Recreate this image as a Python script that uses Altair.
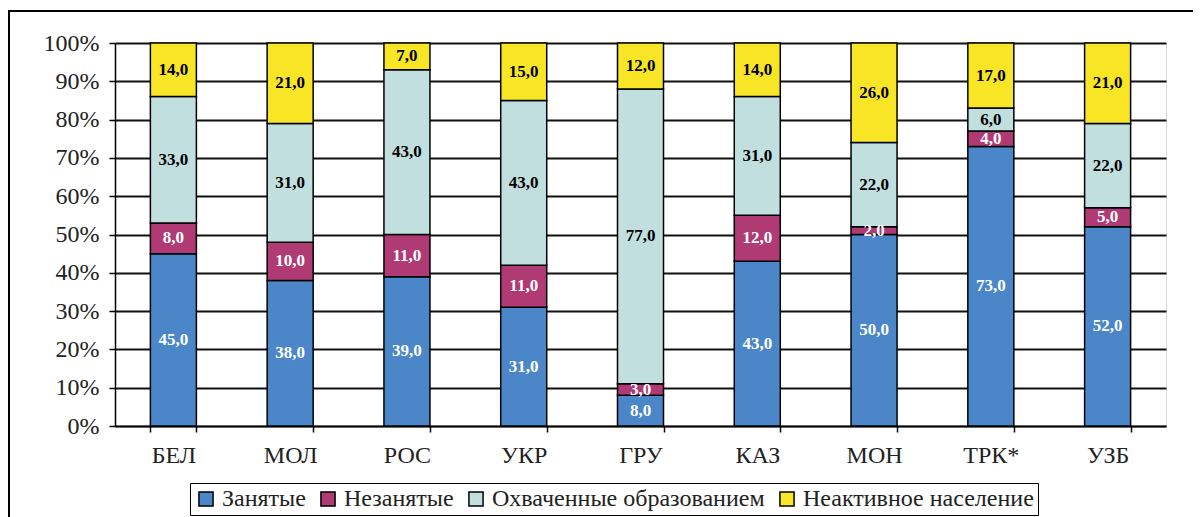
import altair as alt
import pandas as pd

countries = ["БЕЛ", "МОЛ", "РОС", "УКР", "ГРУ", "КАЗ", "МОН", "ТРК*", "УЗБ"]
series = ["Занятые", "Незанятые", "Охваченные образованием", "Неактивное население"]
employed = [45, 38, 39, 31, 8, 43, 50, 73, 52]
unemployed = [8, 10, 11, 11, 3, 12, 2, 4, 5]
education = [33, 31, 43, 43, 77, 31, 22, 6, 22]
inactive = [14, 21, 7, 15, 12, 14, 26, 17, 21]
colors = ["#4A86C8", "#B03A74", "#C1DFDF", "#F8E626"]
y_ticks = [0, 10, 20, 30, 40, 50, 60, 70, 80, 90, 100]

rows = []
for i, vals in enumerate([employed, unemployed, education, inactive]):
    for c, v in zip(countries, vals):
        rows.append({"country": c, "series": series[i], "ord": i, "value": v})
df = pd.DataFrame(rows)

FONT = "Liberation Serif"

base = alt.Chart(df).transform_stack(
    stack="value", groupby=["country"], as_=["y0", "y1"],
    sort=[alt.SortField("ord", order="ascending")]
).transform_calculate(
    mid="(datum.y0 + datum.y1) / 2",
    lbl="replace(format(datum.value, '.1f'), '.', ',')"
)

xaxis = alt.Axis(
    title=None, labelAngle=0, tickBand="extent", tickSize=6,
    tickColor="black", tickWidth=1.5, domainColor="black", domainWidth=1.5,
    labelFont=FONT, labelFontSize=24, labelColor="#222222", labelPadding=11,
)
yaxis = alt.Axis(
    title=None, values=y_ticks, labelExpr="datum.value + '%'", labelOverlap=False,
    grid=True, gridColor="#111111", gridWidth=1.8,
    domainColor="black", domainWidth=1.5, tickColor="black", tickWidth=1.5,
    tickSize=6, labelFont=FONT, labelFontSize=24, labelColor="#222222",
    labelPadding=10,
)
xscale = alt.Scale(paddingInner=0.606, paddingOuter=0.303)
yscale = alt.Scale(domain=[0, 100], nice=False)

bars = base.mark_bar(stroke="black", strokeWidth=1.5).encode(
    x=alt.X("country:N", sort=countries, scale=xscale, axis=xaxis),
    y=alt.Y("y0:Q", scale=yscale, axis=yaxis),
    y2="y1:Q",
    color=alt.Color(
        "series:N",
        scale=alt.Scale(domain=series, range=colors),
        legend=alt.Legend(
            title=None, orient="none", legendX=75, legendY=440,
            direction="horizontal", symbolType="square", symbolSize=200,
            symbolStrokeColor="black", symbolStrokeWidth=1.5, symbolOpacity=1,
            labelFont=FONT, labelFontSize=24, labelColor="#222222", labelLimit=0,
            labelOffset=4, columnPadding=10, padding=4,
            strokeColor="black", fillColor="white",
        ),
    ),
)

labels = base.mark_text(
    font=FONT, fontSize=17, fontWeight="bold", baseline="middle", align="center"
).encode(
    x=alt.X("country:N", sort=countries, scale=xscale, axis=xaxis),
    y=alt.Y("mid:Q", scale=yscale, axis=yaxis),
    text="lbl:N",
    color=alt.condition("datum.ord < 2", alt.value("white"), alt.value("black")),
)

frame = alt.Chart(alt.Data(values=[{}])).mark_rect(
    fill="transparent", stroke="black", strokeWidth=2
).encode(
    x=alt.value(-106), x2=alt.value(1300), y=alt.value(-32), y2=alt.value(700)
)

chart = alt.layer(frame, bars, labels).properties(
    width=1051, height=383,
    autosize=alt.AutoSizeParams(type="none"),
    padding={"left": 107, "top": 35, "right": 27, "bottom": 91},
).configure_view(
    fill="#D3D4D6", stroke="black", strokeWidth=1.5
).configure(background="white")

chart.save("out.html", embed_options={"renderer": "svg", "actions": False})
